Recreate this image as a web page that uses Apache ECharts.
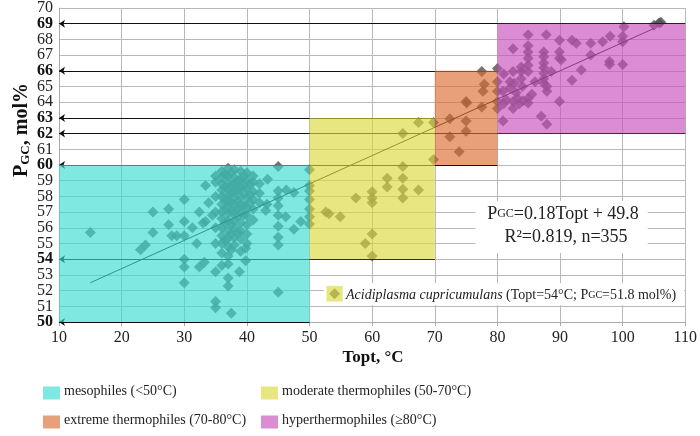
<!DOCTYPE html>
<html>
<head>
<meta charset="utf-8">
<script src="https://cdn.jsdelivr.net/npm/echarts@6/dist/echarts.min.js"></script>
<style>
  html, body { margin: 0; padding: 0; background: #fff; }
  #chart { width: 700px; height: 436px; }
</style>
</head>
<body>
<div id="chart"></div>
<script>
// mesophiles (<50 °C)
var mesoTopt = [15, 23, 23.8, 25, 25, 27.5, 27.5, 28, 28.8, 30, 30, 30, 30, 30, 30,
  31.3, 32, 32.4, 32.4, 33.2, 33.4, 33.4, 33.9, 33, 34.5,
  35, 35, 35, 35, 35, 35, 35, 35, 35, 37, 37, 37.5, 38.8, 39.8, 39.8,
  43.3, 43, 43.2, 45, 45, 45, 45, 45, 45, 45, 45, 45,
  46.3, 47.5, 46.2, 47.5, 48.6, 50, 50, 50, 50, 50, 50, 50,
  36, 36, 36, 36, 36, 36, 36, 36, 36, 36, 36, 36, 36,
  36.5, 36.5, 36.5, 36.5, 36.5, 36.5,
  37, 37, 37, 37, 37, 37, 37, 37, 37, 37, 37, 37, 37, 37,
  37.5, 37.5, 37.5, 37.5, 37.5, 37.5, 37.5, 37.5,
  38, 38, 38, 38, 38, 38, 38, 38, 38, 38, 38,
  38.5, 38.5, 38.5, 38.5, 38.5, 38.5,
  39, 39, 39, 39, 39, 39, 39, 39, 39, 39,
  39.5, 39.5, 39.5, 39.5, 39.5,
  40, 40, 40, 40, 40, 40, 40, 40, 40,
  40.5, 40.5, 40.5, 41, 41, 41, 41, 41, 41, 42, 42, 42];
var mesoGC = [55.7, 54.6, 54.9, 57.0, 55.7, 57.2, 56.2, 55.5, 55.5, 57.8, 56.4, 55.5, 54.0, 53.5, 52.5,
  56.0, 55.0, 57.0, 53.5, 53.8, 58.7, 56.4, 57.6, 56.3, 56.8,
  59.3, 58.9, 58.0, 57.0, 56.0, 55.0, 53.2, 51.3, 50.9, 52.8, 52.3, 50.55, 53.2, 54.7, 53.9,
  59.1, 57.1, 57.5, 59.9, 58.35, 57.9, 57.4, 56.8, 56.1, 55.4, 54.9, 51.9,
  58.4, 58.25, 56.7, 55.9, 56.4, 59.7, 58.7, 58.35, 57.8, 57.2, 56.7, 56.25,
  59.6, 59.2, 58.8, 58.4, 58.0, 57.5, 57.0, 56.6, 56.0, 55.5, 55.0, 54.4, 53.6,
  59.4, 58.6, 57.8, 57.2, 56.3, 55.2,
  59.8, 59.3, 58.9, 58.5, 58.1, 57.7, 57.3, 56.9, 56.4, 55.8, 55.3, 54.8, 54.2, 53.7,
  59.5, 58.7, 58.2, 57.6, 57.0, 56.2, 55.6, 54.6,
  59.7, 59.2, 58.8, 58.3, 57.9, 57.4, 57.0, 56.5, 56.0, 55.4, 54.9,
  59.0, 58.4, 57.7, 57.2, 56.7, 55.7,
  59.6, 59.1, 58.6, 58.0, 57.5, 57.0, 56.3, 55.8, 55.3, 54.5,
  59.3, 58.7, 58.2, 57.4, 56.8,
  59.5, 59.0, 58.5, 57.9, 57.3, 56.8, 56.2, 55.6, 55.0,
  58.8, 58.1, 57.6, 59.3, 58.9, 58.3, 57.8, 57.2, 56.5, 58.8, 58.2, 57.6];

// moderate thermophiles (50-70 °C)
var moderateTopt = [52.6, 53.1, 54.9, 57.4, 60, 60, 60, 60, 58.9, 60, 62.4, 62.4,
  64.9, 64.9, 64.9, 64.9, 64.9, 67.4, 67.4, 69.8, 69.8, 54];
var moderateGC = [57.0, 56.9, 56.7, 57.9, 58.3, 57.9, 57.6, 55.6, 55.0, 54.2, 59.15, 58.6,
  59.9, 59.15, 58.45, 57.9, 62.0, 58.4, 62.7, 62.7, 60.35, 51.8];

// extreme thermophiles (70-80 °C)
var extremeTopt = [72.4, 72.4, 73.9, 75, 75, 75, 75.1, 77.5, 77.9, 77.7, 77.5, 80];
var extremeGC = [62.95, 61.8, 60.85, 64.05, 62.8, 62.15, 63.95, 65.95, 65.15, 64.7, 63.7, 66.15];

// hyperthermophiles (>=80 °C)
var hyperTopt = [80, 80, 80, 80, 80.9, 80.9, 81.4, 82, 82.7, 82.5, 82.5, 82.5, 82.5, 83.8, 83.8, 83.8, 83.2, 84.1,
  84.9, 84.9, 84.9, 84.9, 84.9, 84.9, 84.9, 84.9,
  87, 87.9, 87.4, 87.4, 87.4, 87.4, 87.4, 87.4, 87.4, 87.9, 87.9, 87.8, 88.6,
  89.9, 89.9, 89.9, 90.2, 89.9, 91.9, 92.6, 91.9, 93.4, 94.9, 94.9,
  96.8, 98, 97.9, 97.9, 100, 100.2, 100, 100, 105, 105.8, 106.1,
  81, 82, 83, 84, 85.5, 86, 81, 83.5];
var hyperGC = [65.3, 64.7, 64.05, 63.6, 62.8, 64.7, 64.15, 65.3, 65.2, 67.4, 65.95, 64.05, 63.6, 66.25, 65.95, 65.5, 64.25, 64.1,
  68.3, 67.6, 67.2, 66.8, 66.35, 65.95, 64.25, 63.95,
  63.1, 62.6, 67.2, 66.9, 66.5, 66.2, 65.85, 65.5, 65.2, 64.7, 65.0, 68.3, 65.95,
  67.95, 67.2, 66.8, 66.7, 64.05, 67.95, 67.75, 65.4, 66.05, 67.75, 67.0,
  67.85, 68.2, 66.6, 66.4, 66.4, 68.8, 68.2, 67.85, 68.9, 69.05, 69.1,
  65.8, 64.9, 64.6, 65.0, 64.5, 65.3, 63.9, 63.9];

// regression PGC = 0.18 Topt + 49.8, drawn over the data range
var trendTopt = [15, 105];
var trendGC = [52.5, 68.7];

// group boxes: [Topt from, Topt to, PGC from, PGC to]
var groupNames = ['mesophiles (<50°C)', 'moderate thermophiles (50-70°C)', 'extreme thermophiles (70-80°C)', 'hyperthermophiles (\u226580°C)'];
var groupBoxes = [[10, 50, 50, 60], [50, 70, 54, 63], [70, 80, 60, 66], [80, 110, 62, 69]];
var groupColors = ['rgba(58,220,208,0.65)', 'rgba(220,217,60,0.65)', 'rgba(220,109,48,0.65)', 'rgba(202,78,186,0.65)'];

// black reference lines at box edges: [PGC, Topt end]
var edgeLines = [[69, 110], [66, 80], [63, 70], [62, 110], [60, 80], [54, 70], [50, 50]];
var boldTicks = [50, 54, 60, 62, 63, 66, 69];

var FONT = 'Liberation Serif';

function pairs(xs, ys) {
  var out = [];
  for (var i = 0; i < xs.length; i++) out.push([xs[i], ys[i]]);
  return out;
}

var points = []
  .concat(pairs(mesoTopt, mesoGC))
  .concat(pairs(moderateTopt, moderateGC))
  .concat(pairs(extremeTopt, extremeGC))
  .concat(pairs(hyperTopt, hyperGC));

var chart = echarts.init(document.getElementById('chart'));

var boxAreas = groupBoxes.map(function (b, i) {
  return [{ coord: [b[0], b[2]], itemStyle: { color: groupColors[i] } }, { coord: [b[1], b[3]] }];
});
// small marker square behind Acidiplasma cupricumulans
boxAreas.push([{ coord: [52.7, 51.3], itemStyle: { color: groupColors[1] } }, { coord: [55.3, 52.3] }]);

var legendGraphics = [];
groupNames.forEach(function (name, i) {
  var x = i % 2 === 0 ? 43 : 261;
  var y = i < 2 ? 393 : 422;
  legendGraphics.push({
    type: 'rect', left: x, top: y - 6.5, z: 10,
    shape: { width: 17, height: 13 },
    style: { fill: groupColors[i] }
  });
  legendGraphics.push({
    type: 'text', left: x + 21, top: y - 8.5, z: 10,
    style: { text: name, font: '14px "' + FONT + '"', fill: '#222' }
  });
});

// y labels split over two stacked axes (even / odd) so none collide
function yAxisFor(parity, visibleLine) {
  return {
    type: 'value', min: 50, max: 70, interval: 1, position: 'left',
    axisLine: { show: visibleLine, lineStyle: { color: '#a8a8a8' } },
    axisTick: { show: false },
    splitLine: { show: visibleLine, lineStyle: { color: '#b8b8b8' } },
    axisLabel: {
      margin: 6, showMinLabel: true, showMaxLabel: true,
      formatter: function (v) {
        if (Math.round(v) % 2 !== parity) return '';
        return boldTicks.indexOf(v) >= 0 ? '{b|' + v + '}' : '{n|' + v + '}';
      },
      rich: {
        b: { fontFamily: FONT, fontSize: 16, fontWeight: 'bold', color: '#111' },
        n: { fontFamily: FONT, fontSize: 16, color: '#222' }
      }
    }
  };
}

var option = {
  animation: false,
  grid: { left: 59, right: 12, top: 6, bottom: 114 },
  xAxis: {
    type: 'value', min: 10, max: 110, interval: 10,
    axisLine: { lineStyle: { color: '#a8a8a8' } },
    axisTick: { show: true, length: 4, lineStyle: { color: '#a8a8a8' } },
    splitLine: { lineStyle: { color: '#b8b8b8' } },
    axisLabel: { color: '#222', fontFamily: FONT, fontSize: 16, margin: 8, showMinLabel: true, showMaxLabel: true }
  },
  yAxis: [yAxisFor(0, true), yAxisFor(1, false)],
  series: [
    {
      name: 'backdrop', type: 'scatter', data: [], z: 1, silent: true,
      markArea: {
        silent: true, z: 1,
        itemStyle: { color: '#fff' },
        data: [
          [{ coord: [76.5, 54.4] }, { coord: [104, 57.7] }],
          [{ coord: [52.3, 51.07] }, { coord: [109.8, 52.47] }]
        ]
      }
    },
    {
      name: 'species', type: 'scatter', symbol: 'diamond', symbolSize: 11, z: 2,
      itemStyle: { color: '#505050' },
      data: points,
      markLine: {
        silent: true, z: 3,
        symbol: ['arrow', 'none'], symbolSize: [6, 6],
        label: { show: false },
        lineStyle: { color: '#111', width: 1.2, type: 'solid' },
        data: edgeLines.map(function (l) {
          return [{ coord: [10, l[0]] }, { coord: [l[1], l[0]] }];
        })
      }
    },
    {
      name: 'trend', type: 'line', showSymbol: false, z: 3,
      lineStyle: { color: '#111', width: 1 },
      data: pairs(trendTopt, trendGC)
    },
    {
      name: 'groups', type: 'scatter', data: [], z: 6, silent: true,
      markArea: { silent: true, z: 6, data: boxAreas }
    }
  ],
  graphic: [
    {
      type: 'text', x: 22, y: 130, rotation: Math.PI / 2, z: 10,
      style: {
        text: '{p|P}{s|GC}{p|, mol%}',
        align: 'center', verticalAlign: 'middle',
        rich: {
          p: { font: 'bold 20px "' + FONT + '"', fill: '#111' },
          s: { font: 'bold 13px "' + FONT + '"', fill: '#111', verticalAlign: 'bottom', padding: [6, 0, 0, 0] }
        }
      }
    },
    {
      type: 'text', x: 373, y: 358, z: 10,
      style: { text: 'Topt, °C', font: 'bold 17px "' + FONT + '"', fill: '#111', align: 'center', verticalAlign: 'middle' }
    },
    {
      type: 'text', x: 563, y: 214, z: 10,
      style: {
        text: '{p|P}{s|GC}{p|=0.18Topt + 49.8}',
        align: 'center', verticalAlign: 'middle',
        rich: {
          p: { font: '18px "' + FONT + '"', fill: '#222' },
          s: { font: '12px "' + FONT + '"', fill: '#222' }
        }
      }
    },
    {
      type: 'text', x: 566, y: 237, z: 10,
      style: { text: 'R\u00b2=0.819, n=355', font: '18px "' + FONT + '"', fill: '#222', align: 'center', verticalAlign: 'middle' }
    },
    {
      type: 'text', x: 346, y: 295, z: 10,
      style: {
        text: '{i|Acidiplasma cupricumulans} {n|(Topt=54°C; P}{s|GC}{n|=51.8 mol%)}',
        verticalAlign: 'middle',
        rich: {
          i: { font: 'italic 14px "' + FONT + '"', fill: '#222' },
          n: { font: '14px "' + FONT + '"', fill: '#222' },
          s: { font: '10px "' + FONT + '"', fill: '#222' }
        }
      }
    }
  ].concat(legendGraphics)
};

chart.setOption(option);
</script>
</body>
</html>
